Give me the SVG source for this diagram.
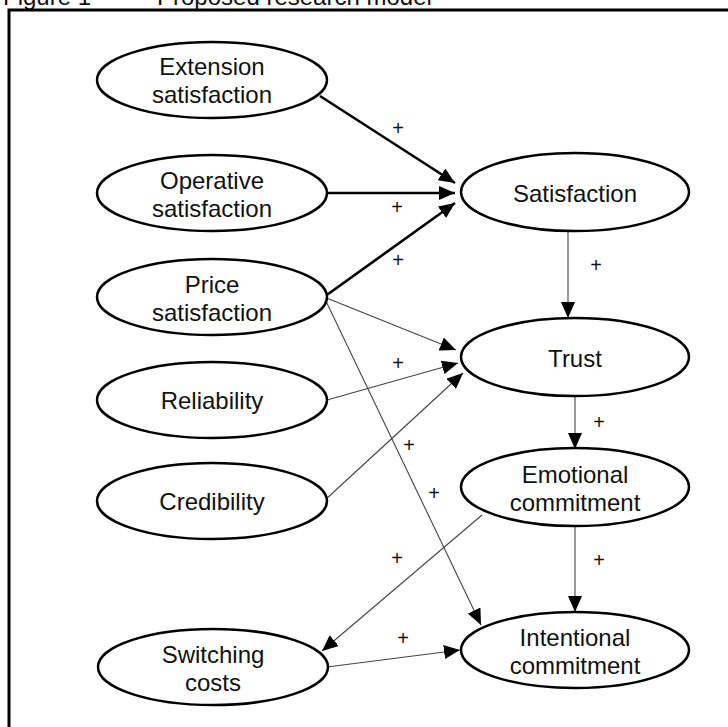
<svg xmlns="http://www.w3.org/2000/svg" width="728" height="727" viewBox="0 0 728 727">
<defs>
<marker id="ah" markerUnits="userSpaceOnUse" markerWidth="16" markerHeight="14" refX="16" refY="7" orient="auto">
<path d="M0,0 L16,7 L0,14 z" fill="#000"/>
</marker>
<style>
.node ellipse{fill:#fff;stroke:#000;stroke-width:2.5}
.node text{font-family:"Liberation Sans",Arial,sans-serif;font-size:24px;fill:#111;text-anchor:middle}
.thick{stroke:#000;stroke-width:2.6;fill:none;marker-end:url(#ah)}
.thin{stroke:#444;stroke-width:1.1;fill:none;marker-end:url(#ah)}
.lbl{font-family:"Liberation Sans",Arial,sans-serif;font-size:20px;fill:#111;text-anchor:middle}
</style>
</defs>
<rect width="728" height="727" fill="#fff"/>
<text y="5" font-family="'Liberation Sans',Arial,sans-serif" font-size="24" fill="#111"><tspan x="3">Figure 1</tspan><tspan x="157">Proposed research model</tspan></text>
<path d="M9,727 V10 H728" fill="none" stroke="#000" stroke-width="3"/>

<g id="connectors">
<line class="thick" x1="320" y1="96" x2="455" y2="183"/>
<line class="thick" x1="328" y1="193" x2="455" y2="193"/>
<line class="thick" x1="324" y1="297" x2="455" y2="203"/>
<line class="thin" x1="324" y1="297" x2="456" y2="350"/>
<line class="thin" x1="327" y1="400" x2="458" y2="363"/>
<line class="thin" x1="325" y1="500" x2="463" y2="373"/>
<line class="thin" x1="324" y1="297" x2="481" y2="625"/>
<line class="thin" x1="482" y1="515" x2="322" y2="651"/>
<line class="thin" x1="327" y1="667" x2="460" y2="650"/>
<line class="thin" x1="568" y1="231" x2="568" y2="318"/>
<line class="thin" x1="575" y1="396" x2="575" y2="449"/>
<line class="thin" x1="575" y1="526" x2="575" y2="612"/>
<text class="lbl" x="398" y="135">+</text>
<text class="lbl" x="397" y="214">+</text>
<text class="lbl" x="398" y="267">+</text>
<text class="lbl" x="398" y="370">+</text>
<text class="lbl" x="409" y="452">+</text>
<text class="lbl" x="434" y="500">+</text>
<text class="lbl" x="397" y="565">+</text>
<text class="lbl" x="403" y="645">+</text>
<text class="lbl" x="596" y="272">+</text>
<text class="lbl" x="599" y="429">+</text>
<text class="lbl" x="599" y="567">+</text>
</g>

<g id="extension" class="node"><ellipse cx="212" cy="80" rx="115" ry="38"/><text x="212" y="75">Extension</text><text x="212" y="103">satisfaction</text></g>
<g id="operative" class="node"><ellipse cx="212" cy="193" rx="115" ry="38"/><text x="212" y="189">Operative</text><text x="212" y="217">satisfaction</text></g>
<g id="price" class="node"><ellipse cx="212" cy="297" rx="115" ry="38"/><text x="212" y="293">Price</text><text x="212" y="321">satisfaction</text></g>
<g id="reliability" class="node"><ellipse cx="212" cy="400" rx="115" ry="38"/><text x="212" y="409">Reliability</text></g>
<g id="credibility" class="node"><ellipse cx="212" cy="501" rx="115" ry="38"/><text x="212" y="510">Credibility</text></g>
<g id="switching" class="node"><ellipse cx="213" cy="667" rx="115" ry="38"/><text x="213" y="663">Switching</text><text x="213" y="691">costs</text></g>
<g id="satisfaction" class="node"><ellipse cx="575" cy="192" rx="114" ry="39"/><text x="575" y="202">Satisfaction</text></g>
<g id="trust" class="node"><ellipse cx="575" cy="357" rx="114" ry="39"/><text x="575" y="367">Trust</text></g>
<g id="emotional" class="node"><ellipse cx="575" cy="487" rx="114" ry="39"/><text x="575" y="483">Emotional</text><text x="575" y="511">commitment</text></g>
<g id="intentional" class="node"><ellipse cx="575" cy="650" rx="114" ry="38"/><text x="575" y="646">Intentional</text><text x="575" y="674">commitment</text></g>
</svg>
